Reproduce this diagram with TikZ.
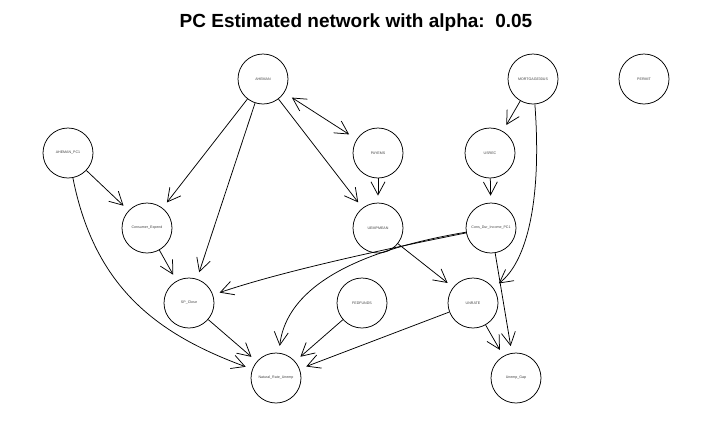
\documentclass[tikz,border=0pt]{standalone}
\usepackage{fontspec}
\setmainfont{Liberation Sans}
\usetikzlibrary{arrows.meta}
\begin{document}
\begin{tikzpicture}[x=1pt, y=-1pt,
	var/.style={draw, circle, minimum size=50pt, inner sep=0pt, line width=0.75pt, font=\fontsize{3.6}{4}\selectfont, text=black!75},
	edge/.style={-{Straight Barb[length=13pt,width=14pt]}, line width=0.75pt, shorten >=7pt},
	bidir/.style={{Straight Barb[length=13pt,width=14pt]}-{Straight Barb[length=13pt,width=14pt]}, line width=0.75pt, shorten >=9pt, shorten <=9pt}]
\useasboundingbox (0,0) rectangle (713,424);

\node[font=\bfseries\fontsize{19}{22}\selectfont] (title) at (356,23) {PC Estimated network with alpha:\ \ 0.05};

% variables
\node[var] (ahe) at (263,79) {AHEMAN};
\node[var] (mort) at (533,79) {MORTGAGE30US};
\node[var] (permit) at (644,79) {PERMIT};
\node[var] (ahepc) at (68,153) {AHEMAN\_PC1};
\node[var] (payems) at (378,153) {PAYEMS};
\node[var] (usrec) at (490,153) {USREC};
\node[var] (consexp) at (147,228) {Consumer\_Expend};
\node[var] (uemp) at (378,228) {UEMPMEAN};
\node[var] (consdur) at (491,228) {Cons\_Dur\_Income\_PC1};
\node[var] (spclose) at (189,303) {SP\_Close};
\node[var] (fedfunds) at (362,303) {FEDFUNDS};
\node[var] (unrate) at (473,303) {UNRATE};
\node[var] (natrate) at (276,378) {Natural\_Rate\_Unemp};
\node[var] (gap) at (516,378) {Unemp\_Gap};

% edges
\draw[edge] (ahe) -- (consexp);
\draw[edge] (ahe) -- (spclose);
\draw[edge] (ahe) -- (uemp);
\draw[bidir] (ahe) -- (payems);
\draw[edge] (payems) -- (uemp);
\draw[edge] (mort) -- (usrec);
\draw[edge] (mort) .. controls (542,200) and (527,262) .. (unrate);
\draw[edge] (usrec) -- (consdur);
\draw[edge] (consdur) .. controls (380,250) and (280,272) .. (spclose);
\draw[edge] (consdur) .. controls (330,255) and (285,300) .. (natrate);
\draw[edge] (consdur) -- (gap);
\draw[edge] (uemp) -- (unrate);
\draw[edge] (ahepc) -- (consexp);
\draw[edge] (ahepc) .. controls (95,290) and (160,335) .. (natrate);
\draw[edge] (consexp) -- (spclose);
\draw[edge] (spclose) -- (natrate);
\draw[edge] (fedfunds) -- (natrate);
\draw[edge] (unrate) -- (natrate);
\draw[edge] (unrate) -- (gap);
\end{tikzpicture}
\end{document}
